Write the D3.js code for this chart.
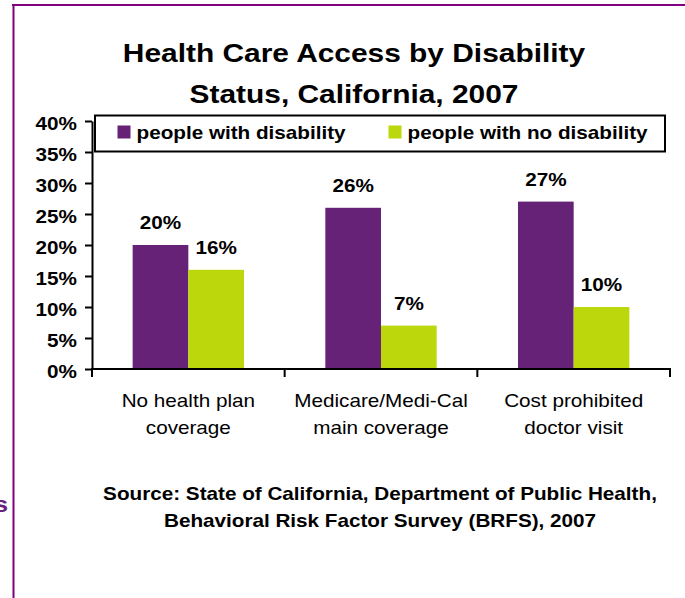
<!DOCTYPE html>
<html>
<head>
<meta charset="utf-8">
<script src="https://cdn.jsdelivr.net/npm/d3@7"></script>
<style>
  html, body { margin: 0; padding: 0; background: #fff; }
  svg { display: block; font-family: "Liberation Sans", Arial, sans-serif; }
</style>
</head>
<body>
<svg id="chart"></svg>
<script>
var width = 685,
    height = 598;

// Chart data
var categories = ["No health plan coverage", "Medicare/Medi-Cal main coverage", "Cost prohibited doctor visit"];
var categoryLines = [["No health plan", "coverage"], ["Medicare/Medi-Cal", "main coverage"], ["Cost prohibited", "doctor visit"]];
var series = ["people with disability", "people with no disability"];
var withDisability = [20, 26, 27];
var noDisability = [16, 7, 10];
var yTicks = [0, 5, 10, 15, 20, 25, 30, 35, 40];
var titleLines = ["Health Care Access by Disability", "Status, California, 2007"];
var sourceLines = ["Source: State of California, Department of Public Health,", "Behavioral Risk Factor Survey (BRFS), 2007"];

var colors = ["#662277", "#bcd80c"];
var stretch = 1.15; // text in the picture is a bit wide

var svg = d3.select('#chart')
    .attr('width', width)
    .attr('height', height);

// place a text with horizontal stretch
function place(sel, x, y) {
    return sel.attr('transform', 'translate(' + x + ',' + y + ') scale(' + stretch + ',1)');
}

// slide frame
svg.append('line')
    .attr('x1', 12).attr('x2', width)
    .attr('y1', 5).attr('y2', 5)
    .attr('stroke', '#800080').attr('stroke-width', 2);
svg.append('line')
    .attr('x1', 13.5).attr('x2', 13.5)
    .attr('y1', 4).attr('y2', height)
    .attr('stroke', '#800080').attr('stroke-width', 2);

// cut-off letter from the slide on the left
place(svg.append('text'), -6, 512)
    .attr('font-size', 22)
    .attr('font-weight', 'bold')
    .attr('fill', '#66237a')
    .text('s');

// Scales
var y = d3.scaleLinear()
    .domain([0, 40])
    .range([369, 121]);

var x0 = d3.scaleBand()
    .domain(categories)
    .range([92, 670]);

var x1 = d3.scaleBand()
    .domain(series)
    .range([0, x0.bandwidth()])
    .paddingOuter(0.73);

// Title
titleLines.forEach(function (t, i) {
    place(svg.append('text'), 354, 62 + i * 40.5)
        .attr('text-anchor', 'middle')
        .attr('font-size', 26)
        .attr('font-weight', 'bold')
        .attr('fill', '#000')
        .text(t);
});

// Bars
var valueSets = [withDisability, noDisability];
var barLayer = svg.append('g');
series.forEach(function (s, si) {
    var bars = barLayer.selectAll('g.s' + si)
        .data(categories)
        .enter().append('g');

    bars.append('rect')
        .attr('x', function (d) { return x0(d) + x1(s); })
        .attr('y', function (d, i) { return y(valueSets[si][i]); })
        .attr('width', x1.bandwidth())
        .attr('height', function (d, i) { return y(0) - y(valueSets[si][i]); })
        .attr('fill', colors[si]);

    bars.each(function (d, i) {
        place(d3.select(this).append('text'), x0(d) + x1(s) + x1.bandwidth() / 2, y(valueSets[si][i]) - 16)
            .attr('text-anchor', 'middle')
            .attr('font-size', 18)
            .attr('font-weight', 'bold')
            .attr('fill', '#000')
            .text(valueSets[si][i] + '%');
    });
});

// Y axis
var yAxis = svg.append('g')
    .attr('transform', 'translate(92,0)')
    .call(d3.axisLeft(y)
        .tickValues(yTicks)
        .tickSize(7)
        .tickSizeOuter(0)
        .tickFormat(function (d) { return d + '%'; }));

yAxis.select('.domain').attr('stroke', '#000').attr('stroke-width', 2);
yAxis.selectAll('.tick line').attr('stroke', '#000').attr('stroke-width', 2);
yAxis.selectAll('.tick text')
    .attr('x', 0)
    .attr('dy', null)
    .attr('transform', 'translate(-15,8.5) scale(' + stretch + ',1)')
    .attr('font-family', null)
    .attr('font-size', 18)
    .attr('font-weight', 'bold')
    .attr('fill', '#000');

// X axis (ticks at category boundaries)
var xAxis = svg.append('g');
xAxis.append('line')
    .attr('x1', x0.range()[0] - 1).attr('x2', x0.range()[1] + 1)
    .attr('y1', y(0)).attr('y2', y(0))
    .attr('stroke', '#000').attr('stroke-width', 2);

var bounds = categories.map(function (c) { return x0(c); }).concat([x0.range()[1]]);
xAxis.selectAll('line.tick')
    .data(bounds)
    .enter().append('line')
    .attr('class', 'tick')
    .attr('x1', function (d) { return d; }).attr('x2', function (d) { return d; })
    .attr('y1', y(0)).attr('y2', y(0) + 8)
    .attr('stroke', '#000').attr('stroke-width', 2);

categories.forEach(function (c, i) {
    categoryLines[i].forEach(function (line, j) {
        place(xAxis.append('text'), x0(c) + x0.bandwidth() / 2, 406.5 + j * 27)
            .attr('text-anchor', 'middle')
            .attr('font-size', 18)
            .attr('fill', '#000')
            .text(line);
    });
});

// Legend
var legend = svg.append('g');
legend.append('rect')
    .attr('x', 95).attr('y', 115.5)
    .attr('width', 570).attr('height', 36)
    .attr('fill', '#fff')
    .attr('stroke', '#000').attr('stroke-width', 2);

var legendX = [117.5, 388.5];
series.forEach(function (s, i) {
    legend.append('rect')
        .attr('x', legendX[i]).attr('y', 125.5)
        .attr('width', 13).attr('height', 13)
        .attr('fill', colors[i]);
    place(legend.append('text'), legendX[i] + 19, 138.5)
        .attr('font-size', 18)
        .attr('font-weight', 'bold')
        .attr('fill', '#000')
        .text(s);
});

// Source note
sourceLines.forEach(function (t, i) {
    place(svg.append('text'), 380, 500 + i * 27)
        .attr('text-anchor', 'middle')
        .attr('font-size', 18)
        .attr('font-weight', 'bold')
        .attr('fill', '#000')
        .text(t);
});
</script>
</body>
</html>
